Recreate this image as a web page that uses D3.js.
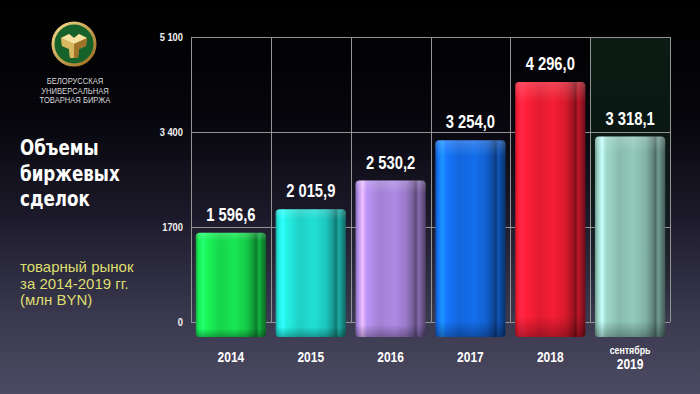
<!DOCTYPE html>
<html><head><meta charset="utf-8">
<script src="https://cdn.jsdelivr.net/npm/d3@7"></script>
<style>html,body{margin:0;padding:0;background:#000;}svg{display:block;}</style>
</head><body>
<svg id="chart" width="700" height="394"></svg>
<script>
const years = ["2014","2015","2016","2017","2018","2019"];
const yearTop = ["","","","","","сентябрь"];
const values = [1596.6, 2015.9, 2530.2, 3254.0, 4296.0, 3318.1];
const valueLabels = ["1 596,6","2 015,9","2 530,2","3 254,0","4 296,0","3 318,1"];
const colors = ["#16d64c","#1fd0c6","#a281d4","#1366dc","#e31b30","#88bcae"];
const yTicks = [0, 1700, 3400, 5100];
const yTickLabels = ["0","1700","3 400","5 100"];
const titleLines = ["Объемы","биржевых","сделок"];
const subLines = ["товарный рынок","за 2014-2019 гг.","(млн BYN)"];
const logoLines = ["БЕЛОРУССКАЯ","УНИВЕРСАЛЬНАЯ","ТОВАРНАЯ БИРЖА"];

const svg = d3.select("#chart");
const defs = svg.append("defs");

// narrow text helper: horizontally condensed text
function ntext(g, tx, ty, str, opts){
  return g.append("text")
    .attr("transform",`translate(${tx},${ty}) scale(${opts.sx||0.82},1)`)
    .attr("text-anchor",opts.anchor||"middle")
    .attr("font-family",opts.family||"Liberation Sans")
    .attr("font-weight",opts.weight||"bold")
    .attr("font-size",opts.size)
    .attr("fill",opts.fill||"#ffffff")
    .text(str);
}

// background
const bg = defs.append("linearGradient").attr("id","bg").attr("x1",0).attr("y1",0).attr("x2",0).attr("y2",1);
[[0,"#000000"],[0.3,"#06060c"],[0.55,"#1c1a2a"],[0.8,"#3a384e"],[1,"#4d4b63"]].forEach(s=>bg.append("stop").attr("offset",s[0]).attr("stop-color",s[1]));
svg.append("rect").attr("width",700).attr("height",394).attr("fill","url(#bg)");

const x = d3.scaleBand().domain(years).range([191,670]).paddingInner(0.12).paddingOuter(0.06);
const y = d3.scaleLinear().domain([0,5100]).range([322,37]);
const step = x.step();
const colLeft = d => x(d) - step*0.06;

// 2019 column tint
const tint = defs.append("linearGradient").attr("id","tint").attr("x1",0).attr("y1",0).attr("x2",0).attr("y2",1);
tint.append("stop").attr("offset",0).attr("stop-color","#0b1c14").attr("stop-opacity",1);
tint.append("stop").attr("offset",0.6).attr("stop-color","#0b1c14").attr("stop-opacity",0.6);
tint.append("stop").attr("offset",1).attr("stop-color","#0b1c14").attr("stop-opacity",0);
svg.append("rect").attr("x",colLeft("2019")).attr("y",y(5100)).attr("width",step).attr("height",y(0)-y(5100)).attr("fill","url(#tint)");

// grid
const grid = svg.append("g").attr("stroke","#939393").attr("stroke-width",1);
grid.selectAll("line.h").data(yTicks).join("line").attr("class","h")
  .attr("x1",191).attr("x2",670).attr("y1",d=>Math.round(y(d))+0.5).attr("y2",d=>Math.round(y(d))+0.5);
const vx = years.map(colLeft).concat([colLeft("2019")+step]);
grid.selectAll("line.v").data(vx).join("line").attr("class","v")
  .attr("x1",d=>Math.round(d)+0.5).attr("x2",d=>Math.round(d)+0.5).attr("y1",y(5100)).attr("y2",y(0));

// y labels
const yl = svg.append("g");
yTicks.forEach((d,i)=>ntext(yl,183,y(d)+4,yTickLabels[i],{size:11,anchor:"end",sx:0.85,fill:"#f0f0f0"}));

// bar gradients
colors.forEach((c,i)=>{
  const base = d3.color(c);
  const g = defs.append("linearGradient").attr("id","bar"+i).attr("x1",0).attr("x2",1).attr("y1",0).attr("y2",0);
  const st = [[0,base.darker(0.6)],[0.04,base.brighter(0.3)],[0.1,base.brighter(1.1)],[0.16,base.brighter(0.4)],
    [0.35,base],[0.55,base.brighter(0.2)],[0.72,base.darker(0.15)],[0.82,base.darker(0.9)],[0.86,base.darker(1.6)],
    [0.9,base.darker(0.5)],[0.95,base.darker(1.2)],[1,base.darker(2)]];
  st.forEach(s=>g.append("stop").attr("offset",s[0]).attr("stop-color",s[1].formatHex()));
});
const vshade = defs.append("linearGradient").attr("id","vshade").attr("x1",0).attr("x2",0).attr("y1",0).attr("y2",1);
vshade.append("stop").attr("offset",0).attr("stop-color","#ffffff").attr("stop-opacity",0.18);
vshade.append("stop").attr("offset",0.08).attr("stop-color","#ffffff").attr("stop-opacity",0);
vshade.append("stop").attr("offset",0.92).attr("stop-color","#000000").attr("stop-opacity",0);
vshade.append("stop").attr("offset",1).attr("stop-color","#000000").attr("stop-opacity",0.3);

const baseY = y(0) + 15;
const bars = svg.append("g");
bars.selectAll("rect.b").data(values).join("rect").attr("class","b")
  .attr("x",(d,i)=>x(years[i])).attr("width",x.bandwidth())
  .attr("y",d=>y(d)).attr("height",d=>baseY - y(d)).attr("rx",4)
  .attr("fill",(d,i)=>`url(#bar${i})`);
bars.selectAll("rect.s").data(values).join("rect").attr("class","s")
  .attr("x",(d,i)=>x(years[i])).attr("width",x.bandwidth())
  .attr("y",d=>y(d)).attr("height",d=>baseY - y(d)).attr("rx",4)
  .attr("fill","url(#vshade)");

// value labels
const vl = svg.append("g");
values.forEach((d,i)=>ntext(vl, x(years[i])+x.bandwidth()/2, y(d)-12, valueLabels[i], {size:18, sx:0.82}));

// year labels
const xl = svg.append("g");
years.forEach((yr,i)=>{
  const cx = x(yr)+x.bandwidth()/2;
  if(yearTop[i]){
    ntext(xl,cx,354,yearTop[i],{size:11,sx:0.8});
    ntext(xl,cx,369,yr,{size:15,sx:0.8});
  } else {
    ntext(xl,cx,362,yr,{size:15,sx:0.8});
  }
});

// logo
const logo = svg.append("g").attr("transform","translate(74,44)");
const gold = defs.append("linearGradient").attr("id","gold").attr("x1",0).attr("y1",0).attr("x2",1).attr("y2",1);
gold.append("stop").attr("offset",0).attr("stop-color","#f3dc8a");
gold.append("stop").attr("offset",1).attr("stop-color","#9a6a1c");
logo.append("circle").attr("r",21).attr("fill","#17622b").attr("stroke","url(#gold)").attr("stroke-width",3);
logo.append("path").attr("d","M-13,-6 L-5,-10 L0,-6 L5,-10 L13,-6 L12,2 L5,5 L4,14 L-4,14 L-5,5 L-12,2 Z").attr("fill","#b8903c");
logo.append("path").attr("d","M-13,-6 L-5,-10 L0,-6 L5,-10 L13,-6 L0,0 Z").attr("fill","#f4e2a0");
logo.append("path").attr("d","M0,0 L13,-6 L12,2 L5,5 L4,14 L0,14 Z").attr("fill","#a07428");
logo.append("path").attr("d","M0,0 L-13,-6 L-12,2 L-5,5 L-4,14 L0,14 Z").attr("fill","#d8b860");
const lg = svg.append("g");
logoLines.forEach((t,i)=>ntext(lg,75,84+i*9.5,t,{size:9.5,sx:0.8,weight:"normal",fill:"#d8d8d8"}));

// title
const tg = svg.append("g");
titleLines.forEach((t,i)=>ntext(tg,20,155+i*25.5,t,{size:22,sx:0.76,anchor:"start",family:"DejaVu Sans"}));
svg.append("g").attr("font-family","Liberation Sans").attr("font-size",15).attr("fill","#dede70")
  .selectAll("text").data(subLines).join("text").attr("x",20).attr("y",(d,i)=>272+i*16.5).text(d=>d);
</script>
</body></html>
